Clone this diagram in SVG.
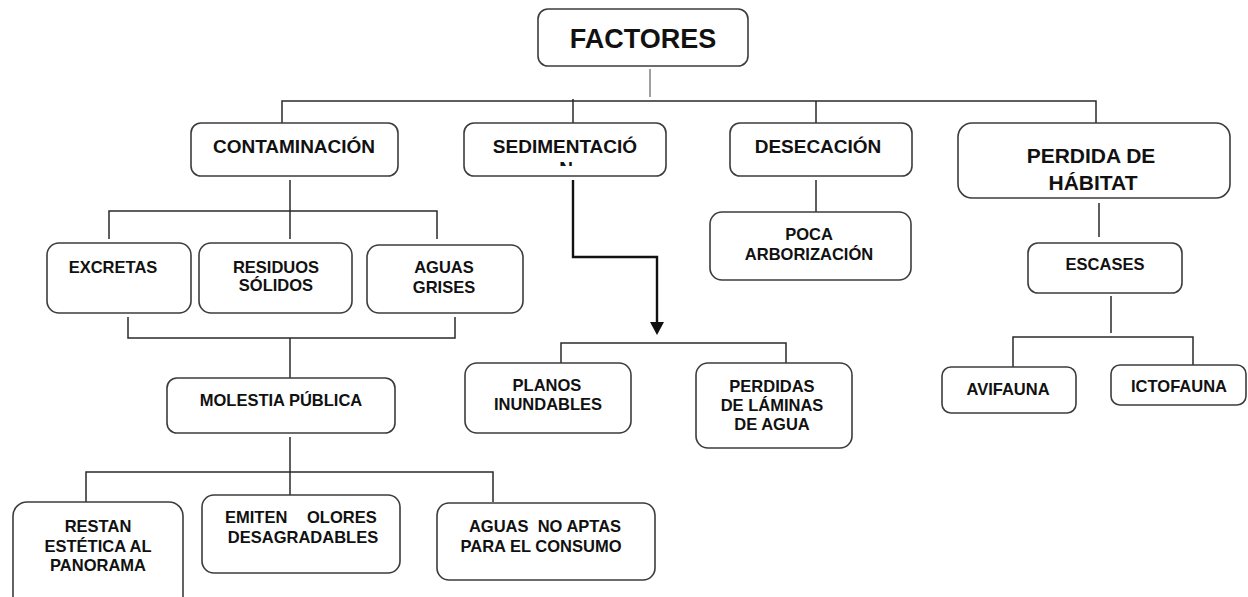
<svg xmlns="http://www.w3.org/2000/svg" width="1248" height="597" viewBox="0 0 1248 597">
<style>
  .box { fill: #ffffff; stroke: #3c3c3c; stroke-width: 1.6; }
  .t { font-family: "Liberation Sans", Arial, sans-serif; font-weight: bold; fill: #111111; text-anchor: middle; }
  .s16 { font-size: 16.5px; }
  .s19 { font-size: 19px; }
  .s21 { font-size: 21px; }
  .s27 { font-size: 27px; }
  .conn line, .conn path { fill: none; stroke: #2a2a2a; stroke-width: 1.5; }
  .conn .light { stroke: #808080; }
  .conn .thick { stroke: #111111; stroke-width: 2.4; }
</style>
<defs>
  <marker id="arrow" viewBox="0 0 13 14" refX="0" refY="7" markerWidth="13" markerHeight="14" markerUnits="userSpaceOnUse" orient="auto">
    <path d="M0,0 L13,7 L0,14 Z" fill="#111111"/>
  </marker>
  <clipPath id="clipN">
    <rect x="540" y="150" width="60" height="16"/>
  </clipPath>
</defs>
<rect width="1248" height="597" fill="#ffffff"/>

<g id="connectors" class="conn">
  <line class="light" x1="650" y1="69" x2="650" y2="97"/>
  <path d="M282,123 V101 H1096 V123"/>
  <line x1="573" y1="99" x2="573" y2="123"/>
  <line x1="816" y1="101" x2="816" y2="123"/>
  <line x1="290" y1="180" x2="290" y2="239"/>
  <path d="M109,239 V211 H437 V239"/>
  <path d="M128,317 V338 H455 V317"/>
  <line x1="290" y1="338" x2="290" y2="378"/>
  <line x1="290" y1="437" x2="290" y2="495"/>
  <path d="M86,503 V472 H493 V502"/>
  <path class="thick" d="M573,180 V257 H657 V322" marker-end="url(#arrow)"/>
  <path d="M561,363 V343 H786 V363"/>
  <line x1="816" y1="180" x2="816" y2="212"/>
  <line x1="1099" y1="203" x2="1099" y2="237"/>
  <line x1="1111" y1="296" x2="1111" y2="333"/>
  <path d="M1013,367 V337 H1193 V365"/>
</g>

<g id="factores">
  <rect class="box" x="538" y="9" width="210" height="57" rx="10"/>
  <text class="t s27" x="643" y="48">FACTORES</text>
</g>
<g id="contaminacion">
  <rect class="box" x="191" y="123" width="207" height="53" rx="10"/>
  <text class="t s19" x="294" y="153">CONTAMINACIÓN</text>
</g>
<g id="sedimentacion">
  <rect class="box" x="464" y="123" width="202" height="53" rx="10"/>
  <text class="t s19" x="565" y="153">SEDIMENTACIÓ</text>
  <text class="t s19" x="566" y="175" clip-path="url(#clipN)">N</text>
</g>
<g id="desecacion">
  <rect class="box" x="730" y="123" width="182" height="53" rx="10"/>
  <text class="t s19" x="818" y="153">DESECACIÓN</text>
</g>
<g id="perdida-habitat">
  <rect class="box" x="958" y="123" width="272" height="75" rx="14"/>
  <text class="t s21" x="1091" y="163">PERDIDA DE</text>
  <text class="t s21" x="1093" y="190">HÁBITAT</text>
</g>
<g id="excretas">
  <rect class="box" x="47" y="243" width="144" height="70" rx="12"/>
  <text class="t s16" x="113" y="273">EXCRETAS</text>
</g>
<g id="residuos">
  <rect class="box" x="199" y="243" width="153" height="70" rx="12"/>
  <text class="t s16" x="276" y="273">RESIDUOS</text>
  <text class="t s16" x="276" y="291">SÓLIDOS</text>
</g>
<g id="aguas-grises">
  <rect class="box" x="367" y="245" width="156" height="68" rx="12"/>
  <text class="t s16" x="444" y="273">AGUAS</text>
  <text class="t s16" x="444" y="293">GRISES</text>
</g>
<g id="molestia">
  <rect class="box" x="167" y="378" width="228" height="55" rx="10"/>
  <text class="t s16" x="281" y="406">MOLESTIA PÚBLICA</text>
</g>
<g id="restan">
  <rect class="box" x="13" y="502" width="170" height="110" rx="14"/>
  <text class="t s16" x="98" y="532">RESTAN</text>
  <text class="t s16" x="98" y="552">ESTÉTICA AL</text>
  <text class="t s16" x="98" y="571">PANORAMA</text>
</g>
<g id="emiten">
  <rect class="box" x="202" y="495" width="198" height="78" rx="12"/>
  <text class="t s16" style="text-anchor:start"><tspan x="225" y="523">EMITEN</tspan><tspan x="307" y="523">OLORES</tspan></text>
  <text class="t s16" x="303" y="543">DESAGRADABLES</text>
</g>
<g id="aguas-no-aptas">
  <rect class="box" x="437" y="503" width="218" height="77" rx="12"/>
  <text class="t s16" x="545" y="532" xml:space="preserve">AGUAS  NO APTAS</text>
  <text class="t s16" x="541" y="552">PARA EL CONSUMO</text>
</g>
<g id="poca-arborizacion">
  <rect class="box" x="710" y="212" width="201" height="68" rx="12"/>
  <text class="t s16" x="809" y="240">POCA</text>
  <text class="t s16" x="809" y="260">ARBORIZACIÓN</text>
</g>
<g id="planos">
  <rect class="box" x="465" y="363" width="166" height="70" rx="12"/>
  <text class="t s16" x="547" y="391">PLANOS</text>
  <text class="t s16" x="548" y="410">INUNDABLES</text>
</g>
<g id="perdidas-laminas">
  <rect class="box" x="696" y="363" width="156" height="85" rx="12"/>
  <text class="t s16" x="772" y="392">PERDIDAS</text>
  <text class="t s16" x="772" y="411">DE LÁMINAS</text>
  <text class="t s16" x="772" y="430">DE AGUA</text>
</g>
<g id="escases">
  <rect class="box" x="1028" y="243" width="154" height="50" rx="10"/>
  <text class="t s16" x="1105" y="270">ESCASES</text>
</g>
<g id="avifauna">
  <rect class="box" x="942" y="367" width="134" height="46" rx="9"/>
  <text class="t s16" x="1008" y="395">AVIFAUNA</text>
</g>
<g id="ictofauna">
  <rect class="box" x="1111" y="365" width="135" height="40" rx="9"/>
  <text class="t s16" x="1179" y="392">ICTOFAUNA</text>
</g>
</svg>
